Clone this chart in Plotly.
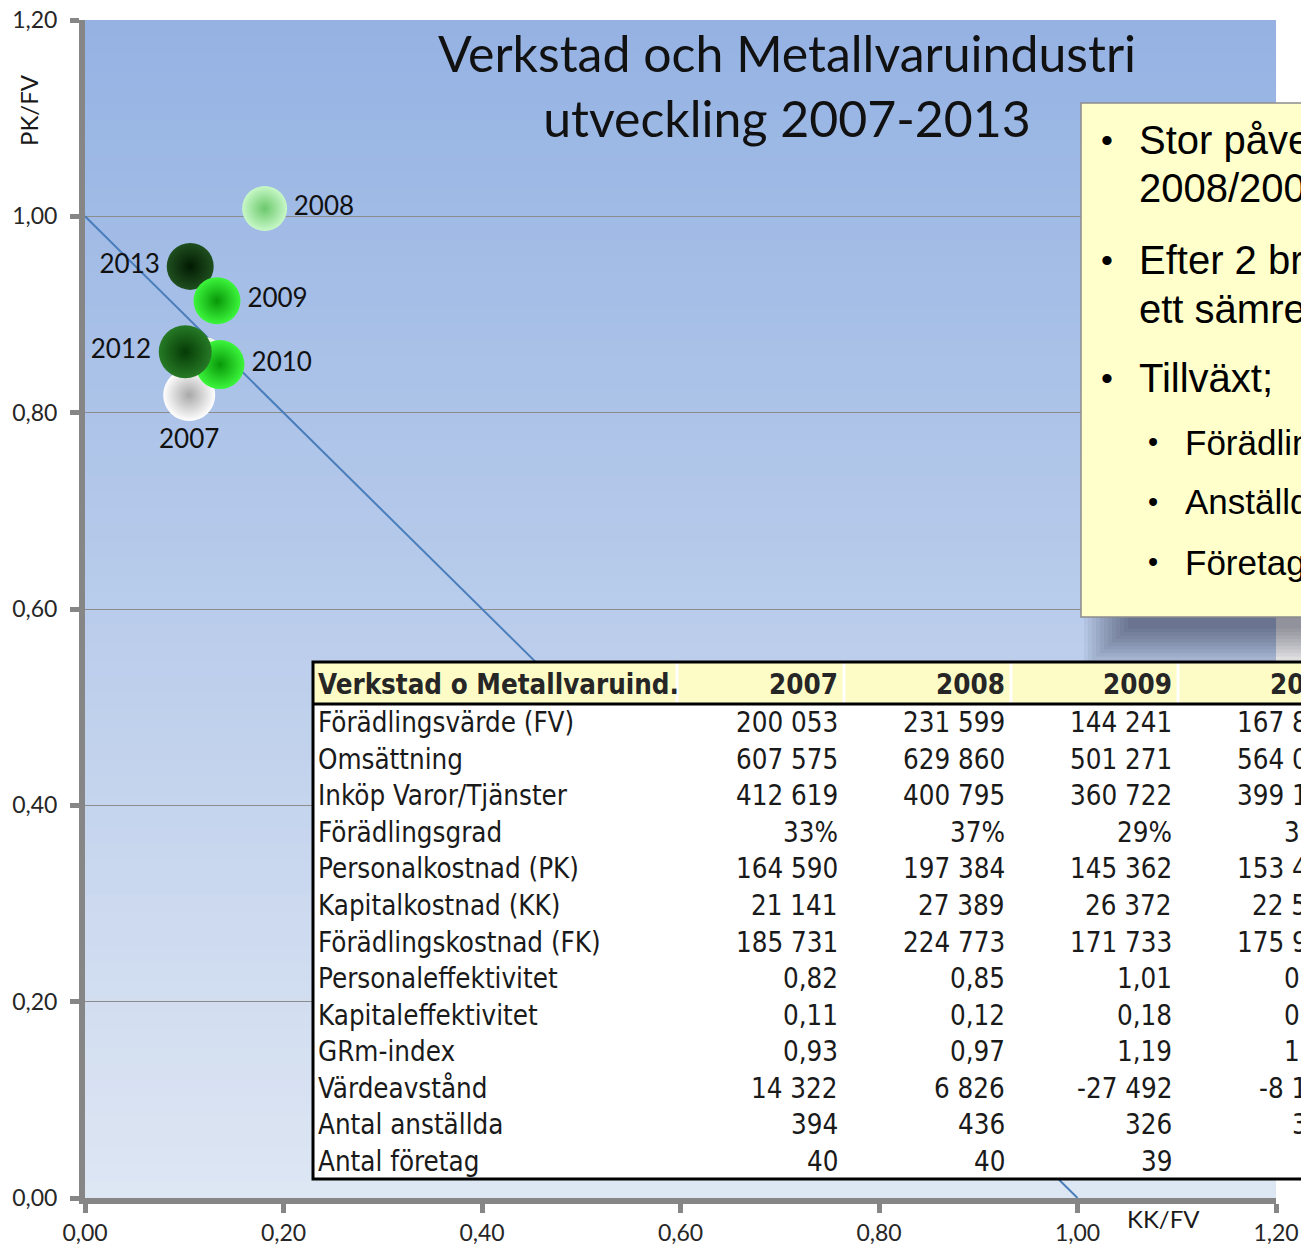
import plotly.graph_objects as go

# ---------------- data ----------------
POINT_LABELS = ["", "2007", "2013", "2009", "2010", "2012", "2008"]
KK_FV = [0.118, 0.105, 0.106, 0.133, 0.136, 0.101, 0.181]
PK_FV = [0.852, 0.818, 0.949, 0.914, 0.849, 0.862, 1.008]
BUBBLE_D = [50, 52, 47, 47, 49, 53, 45]
LABEL_POS = ["middle right", "bottom center", "middle left", "middle right",
             "middle right", "middle left", "middle right"]
CENTER_COL = ["#eef8ea", "#ffffff", "#1f4f1f", "#3cf53c", "#3cf53c", "#267a26", "#c8f8c8"]
EDGE_COL = ["#b6dcb0", "#a8a8a8", "#021a02", "#089808", "#089808", "#063a06", "#6cc86c"]

LINE_X = [0.0, 1.0]
LINE_Y = [1.0, 0.0]

TICKS = [0.0, 0.2, 0.4, 0.6, 0.8, 1.0, 1.2]

TITLE = "Verkstad och Metallvaruindustri<br>utveckling 2007-2013"

TABLE_TITLE = "Verkstad o Metallvaruind."
TABLE_YEARS = ["2007", "2008", "2009", "2010"]
TABLE_ROWS = ["Förädlingsvärde (FV)", "Omsättning", "Inköp Varor/Tjänster", "Förädlingsgrad",
              "Personalkostnad (PK)", "Kapitalkostnad (KK)", "Förädlingskostnad (FK)",
              "Personaleffektivitet", "Kapitaleffektivitet", "GRm-index", "Värdeavstånd",
              "Antal anställda", "Antal företag"]
V2007 = ["200 053", "607 575", "412 619", "33%", "164 590", "21 141", "185 731",
         "0,82", "0,11", "0,93", "14 322", "394", "40"]
V2008 = ["231 599", "629 860", "400 795", "37%", "197 384", "27 389", "224 773",
         "0,85", "0,12", "0,97", "6 826", "436", "40"]
V2009 = ["144 241", "501 271", "360 722", "29%", "145 362", "26 372", "171 733",
         "1,01", "0,18", "1,19", "-27 492", "326", "39"]
V2010 = ["167 812", "564 012", "399 150", "30%", "153 405", "22 530", "175 935",
         "0,91", "0,13", "1,05", "-8 123", "330", "38"]
TABLE_VALUES = [V2007, V2008, V2009, V2010]

BOX_LINES = [
    (1, True, "Stor påverkan av krisen"),
    (1, False, "2008/2009"),
    (1, True, "Efter 2 bra år"),
    (1, False, "ett sämre 2012"),
    (1, True, "Tillväxt;"),
    (2, True, "Förädlingsvärde"),
    (2, True, "Anställda"),
    (2, True, "Företag"),
]

# ---------------- layout geometry ----------------
W, H = 1301, 1245
PL, PR, PT, PB = 85, 1276, 20, 1198   # plot area in pixels
ML, MT = PL, PT
MR = W - PR
MB = H - PB
PW, PH = PR - PL, PB - PT


def px(xp):
    return (xp - PL) / PW


def py(yp):
    return (PB - yp) / PH


fig = go.Figure()

# break-even line
fig.add_trace(go.Scatter(x=LINE_X, y=LINE_Y, mode="lines",
                         line=dict(color="#4a7ebb", width=2), hoverinfo="skip",
                         showlegend=False))

# bubbles
fig.add_trace(go.Scatter(
    x=KK_FV, y=PK_FV, mode="markers+text", text=POINT_LABELS,
    textposition=LABEL_POS,
    textfont=dict(family="Lato, sans-serif", size=26, color="#111111"),
    marker=dict(size=BUBBLE_D, color=CENTER_COL, line=dict(width=0),
                gradient=dict(type="radial", color=EDGE_COL), opacity=1),
    showlegend=False, hoverinfo="skip"))

shapes = []
# gradient plot background
N = 70
top = (148, 178, 227)
bot = (222, 230, 243)
for i in range(N):
    t = (i + 0.5) / N
    c = tuple(int(round(bot[k] + (top[k] - bot[k]) * t)) for k in range(3))
    shapes.append(dict(type="rect", xref="x", yref="y", layer="below",
                       x0=0, x1=1.2, y0=1.2 * i / N, y1=1.2 * (i + 1) / N + 0.001,
                       fillcolor="rgb(%d,%d,%d)" % c, line=dict(width=0)))

# text box shadow (soft)
for k in range(12):
    shapes.append(dict(type="rect", xref="paper", yref="paper", layer="above",
                       x0=px(1084 + 4 * k), x1=px(1360), y0=py(617 + 50 - 3.5 * k), y1=py(617),
                       fillcolor="rgba(0,0,20,0.045)", line=dict(width=0)))
# text box
shapes.append(dict(type="rect", xref="paper", yref="paper", layer="above",
                   x0=px(1081), x1=px(1360), y0=py(617), y1=py(103),
                   fillcolor="#ffffcc", line=dict(color="#8c8c8c", width=1.5)))

# table
T_LEFT, T_TOP, T_HEAD_BOT, T_BOT = 313, 662, 704, 1179
T_RIGHT = 1360
LABEL_W, COL_W = 364, 167
shapes.append(dict(type="rect", xref="paper", yref="paper", layer="above",
                   x0=px(T_LEFT), x1=px(T_RIGHT), y0=py(T_BOT), y1=py(T_TOP),
                   fillcolor="#ffffff", line=dict(width=0)))
shapes.append(dict(type="rect", xref="paper", yref="paper", layer="above",
                   x0=px(T_LEFT), x1=px(T_RIGHT), y0=py(T_HEAD_BOT), y1=py(T_TOP),
                   fillcolor="#fdfcc6", line=dict(width=0)))
for j in range(len(TABLE_YEARS)):
    xs = T_LEFT + LABEL_W + j * COL_W
    shapes.append(dict(type="line", xref="paper", yref="paper", layer="above",
                       x0=px(xs), x1=px(xs), y0=py(T_HEAD_BOT), y1=py(T_TOP),
                       line=dict(color="#ffffff", width=3)))
shapes.append(dict(type="line", xref="paper", yref="paper", layer="above",
                   x0=px(T_LEFT), x1=px(T_RIGHT), y0=py(T_HEAD_BOT), y1=py(T_HEAD_BOT),
                   line=dict(color="#000000", width=3)))
shapes.append(dict(type="rect", xref="paper", yref="paper", layer="above",
                   x0=px(T_LEFT), x1=px(T_RIGHT), y0=py(T_BOT), y1=py(T_TOP),
                   line=dict(color="#000000", width=3)))

annotations = []
TFONT = "DejaVu Sans Condensed, Liberation Sans Narrow, DejaVu Sans, sans-serif"
TSIZE = 27.5
head_y = (T_TOP + T_HEAD_BOT) / 2 + 1
annotations.append(dict(xref="paper", yref="paper", x=px(T_LEFT + 3), y=py(head_y),
                        xanchor="left", yanchor="middle", showarrow=False,
                        text="<b>%s</b>" % TABLE_TITLE,
                        font=dict(family=TFONT, size=TSIZE, color="#262626")))
for j, yr in enumerate(TABLE_YEARS):
    xr = T_LEFT + LABEL_W + (j + 1) * COL_W - 4
    annotations.append(dict(xref="paper", yref="paper", x=px(xr), y=py(head_y),
                            xanchor="right", yanchor="middle", showarrow=False,
                            text="<b>%s</b>" % yr,
                            font=dict(family=TFONT, size=TSIZE, color="#262626")))
ROW_H = (T_BOT - T_HEAD_BOT) / len(TABLE_ROWS)
for i, lab in enumerate(TABLE_ROWS):
    yc = T_HEAD_BOT + ROW_H * (i + 0.5)
    annotations.append(dict(xref="paper", yref="paper", x=px(T_LEFT + 3), y=py(yc),
                            xanchor="left", yanchor="middle", showarrow=False, text=lab,
                            font=dict(family=TFONT, size=TSIZE, color="#1a1a1a")))
    for j, vals in enumerate(TABLE_VALUES):
        xr = T_LEFT + LABEL_W + (j + 1) * COL_W - 4
        annotations.append(dict(xref="paper", yref="paper", x=px(xr), y=py(yc),
                                xanchor="right", yanchor="middle", showarrow=False,
                                text=vals[i],
                                font=dict(family=TFONT, size=TSIZE, color="#1a1a1a")))

# box text
BOX_Y = [140, 188, 260, 309, 378, 442, 502, 562]
BFONT = "Liberation Sans, Arial, sans-serif"
for (lvl, bullet, txt), yc in zip(BOX_LINES, BOX_Y):
    size = 40 if lvl == 1 else 35
    bx = 1107 if lvl == 1 else 1153
    tx = 1137 if lvl == 1 else 1183
    if bullet:
        annotations.append(dict(xref="paper", yref="paper", x=px(bx), y=py(yc),
                                xanchor="center", yanchor="middle", showarrow=False,
                                text="•", font=dict(family=BFONT, size=size - 6, color="#000000")))
    annotations.append(dict(xref="paper", yref="paper", x=px(tx), y=py(yc),
                            xanchor="left", yanchor="middle", showarrow=False, text=txt,
                            font=dict(family=BFONT, size=size, color="#000000")))

# axis titles
AFONT = "Lato, sans-serif"
annotations.append(dict(xref="paper", yref="paper", x=px(28), y=py(110),
                        xanchor="center", yanchor="middle", showarrow=False, text="PK/FV",
                        textangle=-90, font=dict(family=AFONT, size=24, color="#1a1a1a")))
annotations.append(dict(xref="paper", yref="paper", x=px(1163), y=py(1218),
                        xanchor="center", yanchor="middle", showarrow=False, text="KK/FV",
                        font=dict(family=AFONT, size=24, color="#1a1a1a")))

axis_common = dict(range=[0, 1.2], tickvals=TICKS, tickformat=".2f", showline=True,
                   linecolor="#868686", linewidth=6, ticks="outside", tickcolor="#868686",
                   tickwidth=5, ticklen=9, zeroline=False, fixedrange=True,
                   ticklabeloverflow="allow",
                   tickfont=dict(family=AFONT, size=23, color="#262626"))

fig.update_layout(
    width=W, height=H,
    margin=dict(l=ML, r=MR, t=MT, b=MB, autoexpand=False),
    paper_bgcolor="#ffffff", plot_bgcolor="rgba(0,0,0,0)",
    separators=", ",
    showlegend=False,
    title=dict(text=TITLE, xref="paper", x=px(787), xanchor="center",
               yref="container", y=1 - 72 / H, yanchor="middle",
               font=dict(family="Lato, sans-serif", size=50, color="#111111")),
    xaxis=dict(showgrid=False, ticklabelstandoff=0, **axis_common),
    yaxis=dict(showgrid=True, gridcolor="#8c8c8c", gridwidth=1, ticklabelstandoff=8,
               **axis_common),
    shapes=shapes,
    annotations=annotations,
)

# remove the default 8 px page margin so the figure fills the window exactly
fig.write_html("out.html", config={"displayModeBar": False},
               post_script="document.body.style.margin='0';document.body.style.overflow='hidden';")
